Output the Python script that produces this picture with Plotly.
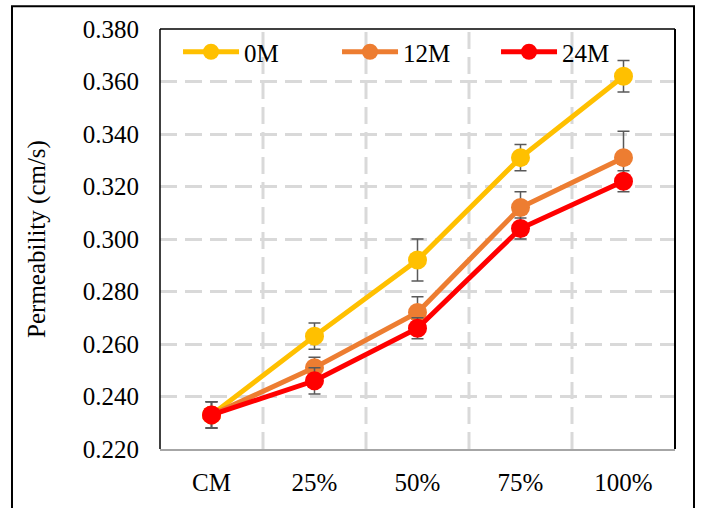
import plotly.graph_objects as go

categories = ["CM", "25%", "50%", "75%", "100%"]
series_names = ["0M", "12M", "24M"]
values_0m = [0.233, 0.263, 0.292, 0.331, 0.362]
values_12m = [0.233, 0.251, 0.272, 0.312, 0.331]
values_24m = [0.233, 0.246, 0.266, 0.304, 0.322]
err_0m = [0.005, 0.005, 0.008, 0.005, 0.006]
err_12m = [0.005, 0.004, 0.006, 0.006, 0.010]
err_24m = [0.005, 0.005, 0.004, 0.004, 0.004]
colors = ["#FFC000", "#ED7D31", "#FF0000"]
y_ticks = [0.22, 0.24, 0.26, 0.28, 0.30, 0.32, 0.34, 0.36, 0.38]

FONT = "Liberation Serif, Times New Roman, serif"
GRID = "#D9D9D9"
DASH = "17px,8px"

fig = go.Figure()
for name, vals, errs, col in zip(series_names, [values_0m, values_12m, values_24m],
                                 [err_0m, err_12m, err_24m], colors):
    fig.add_trace(go.Scatter(
        x=categories, y=vals, name=name, mode="lines+markers",
        line=dict(color=col, width=5),
        marker=dict(color=col, size=19),
        error_y=dict(type="data", array=errs, visible=True,
                     color="#595959", thickness=1.5, width=6),
    ))

fig.update_layout(
    width=703, height=508,
    margin=dict(l=160, r=28, t=29, b=56),
    paper_bgcolor="white", plot_bgcolor="white",
    font=dict(family=FONT, size=25, color="black"),
    showlegend=True,
    legend=dict(orientation="h", x=0.035, y=1.0, xanchor="left", yanchor="top",
                bgcolor="rgba(0,0,0,0)", font=dict(family=FONT, size=25),
                entrywidth=88, itemwidth=56, tracegroupgap=0),
    xaxis=dict(
        type="category", range=[-0.5, 4.5],
        showgrid=False, showline=True, linecolor="#A6A6A6", linewidth=1.5,
        ticks="", tickfont=dict(family=FONT, size=25), ticklabelstandoff=10,
    ),
    yaxis=dict(
        range=[0.22, 0.38], tickvals=y_ticks, tickformat=".3f",
        showgrid=True, gridcolor=GRID, griddash=DASH, gridwidth=3,
        zeroline=False, showline=False, ticks="",
        tickfont=dict(family=FONT, size=25), ticklabelstandoff=20,
        title=dict(text="Permeability (cm/s)", font=dict(family=FONT, size=25), standoff=30),
    ),
)

# vertical dashed gridlines between categories
for b in [0.5, 1.5, 2.5, 3.5]:
    fig.add_shape(type="line", xref="x", yref="paper", x0=b, x1=b, y0=0, y1=1,
                  line=dict(color=GRID, width=3, dash=DASH), layer="below")

# plot area border (left, top, right)
fig.add_shape(type="line", xref="paper", yref="paper", x0=0, x1=0, y0=0, y1=1,
              line=dict(color="black", width=1.5))
fig.add_shape(type="line", xref="paper", yref="paper", x0=0, x1=1, y0=1, y1=1,
              line=dict(color="black", width=1.5))
fig.add_shape(type="line", xref="paper", yref="paper", x0=1, x1=1, y0=0, y1=1,
              line=dict(color="black", width=2))

# outer frame
fig.add_shape(type="rect", xref="paper", yref="paper",
              x0=-0.2874, x1=1.0369, y0=-0.2, y1=1.0544,
              line=dict(color="black", width=2), fillcolor="rgba(0,0,0,0)")

fig.write_html("out.html", config={"displayModeBar": False},
               post_script="document.body.style.margin='0';")
